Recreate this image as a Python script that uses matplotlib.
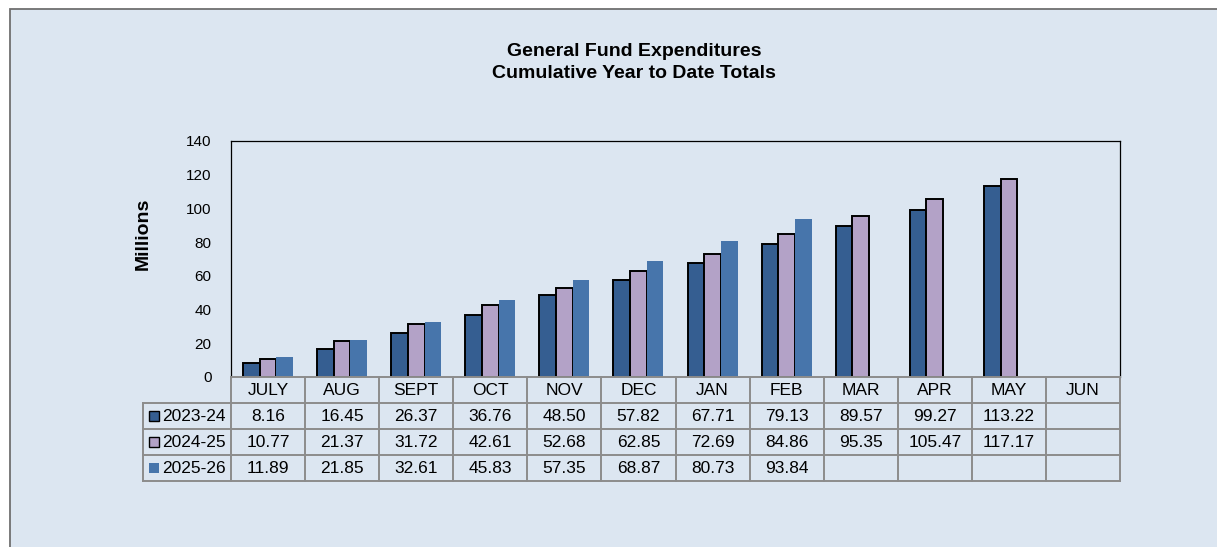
import numpy as np
import matplotlib
matplotlib.use("Agg")
import matplotlib.pyplot as plt
from matplotlib.patches import Rectangle
from matplotlib.lines import Line2D

plt.rcParams['font.family'] = ['Liberation Sans', 'DejaVu Sans']

# ---- data ----
months = ["JULY", "AUG", "SEPT", "OCT", "NOV", "DEC", "JAN", "FEB", "MAR", "APR", "MAY", "JUN"]
series_names = ["2023-24", "2024-25", "2025-26"]
fy2023_24 = [8.16, 16.45, 26.37, 36.76, 48.50, 57.82, 67.71, 79.13, 89.57, 99.27, 113.22, None]
fy2024_25 = [10.77, 21.37, 31.72, 42.61, 52.68, 62.85, 72.69, 84.86, 95.35, 105.47, 117.17, None]
fy2025_26 = [11.89, 21.85, 32.61, 45.83, 57.35, 68.87, 80.73, 93.84, None, None, None, None]
y_ticks = [0, 20, 40, 60, 80, 100, 120, 140]
title1 = "General Fund Expenditures"
title2 = "Cumulative Year to Date Totals"
y_label = "Millions"

# ---- style ----
W, H = 1217, 547
BG = "#DCE6F1"
colors = ["#355E91", "#B3A2C7", "#4775AB"]
edges = ["black", "black", "none"]
GRID = "#8C8C8C"

fig = plt.figure(figsize=(W / 100, H / 100), dpi=100)
fig.patch.set_facecolor("white")
fig.add_artist(Rectangle((10 / W, -0.1), 1.2, 1.1 - 8.5 / H, transform=fig.transFigure,
                         facecolor=BG, edgecolor="#707070", linewidth=1.3, zorder=0))

# main axes
L, R, T, B = 231, 1120, 141, 377
ax = fig.add_axes([L / W, 1 - B / H, (R - L) / W, (B - T) / H])
ax.set_facecolor(BG)
ax.set_xlim(-0.5, len(months) - 0.5)
ax.set_ylim(0, 140)
ax.set_yticks(y_ticks)
ax.set_xticks([])
ax.tick_params(axis="y", length=0, pad=14, labelsize=11)
for s in ["top", "left", "right"]:
    ax.spines[s].set_color("black")
    ax.spines[s].set_linewidth(0.9)
ax.spines["bottom"].set_visible(False)

bw = 0.225
x = np.arange(len(months))
all_series = [fy2023_24, fy2024_25, fy2025_26]
for k, vals in enumerate(all_series):
    v = np.array([np.nan if a is None else a for a in vals], dtype=float)
    ax.bar(x + (k - 1) * bw, v, width=bw, color=colors[k],
           edgecolor=edges[k], linewidth=1.4 if edges[k] != "none" else 0, zorder=3)

fig.text(634 / W, 1 - 51 / H, title1, ha="center", va="center", fontsize=14, fontweight="bold")
fig.text(634 / W, 1 - 73.5 / H, title2, ha="center", va="center", fontsize=14, fontweight="bold")
fig.text(143 / W, 1 - 234 / H, y_label, ha="center", va="center", rotation=90,
         fontsize=14, fontweight="bold")

# ---- data table ----
ppu = (R - L) / len(months)          # pixels per category
TL, TB = 143, 481
x0 = -0.5 - (L - TL) / ppu
tab = fig.add_axes([TL / W, 1 - TB / H, (R - TL) / W, (TB - B) / H])
tab.set_xlim(x0, len(months) - 0.5)
tab.set_ylim(4, 0)
tab.axis("off")

def hline(y, xa, xb):
    tab.add_line(Line2D([xa, xb], [y, y], color=GRID, lw=1.4, clip_on=False))

def vline(xv, ya, yb):
    tab.add_line(Line2D([xv, xv], [ya, yb], color=GRID, lw=1.4, clip_on=False))

hline(0, -0.5, len(months) - 0.5)
for r in range(1, 5):
    hline(r, x0, len(months) - 0.5)
for i in range(len(months) + 1):
    vline(-0.5 + i, 0, 4)
vline(x0, 1, 4)

FS = 12.5
for i, m in enumerate(months):
    tab.text(i, 0.52, m, ha="center", va="center", fontsize=FS)
for k, vals in enumerate(all_series):
    for i, v in enumerate(vals):
        if v is not None:
            tab.text(i, k + 1.52, f"{v:.2f}", ha="center", va="center", fontsize=FS)
    sq = 10 / ppu
    sqh = 10 / 26
    tab.add_patch(Rectangle((x0 + 6 / ppu, k + 1.5 - sqh / 2), sq, sqh,
                            facecolor=colors[k], edgecolor=edges[k],
                            linewidth=1.0 if edges[k] != "none" else 0, clip_on=False))
    tab.text(x0 + 19 / ppu, k + 1.52, series_names[k], ha="left", va="center", fontsize=FS)

fig.savefig("out.png", dpi=100, facecolor=fig.get_facecolor())
